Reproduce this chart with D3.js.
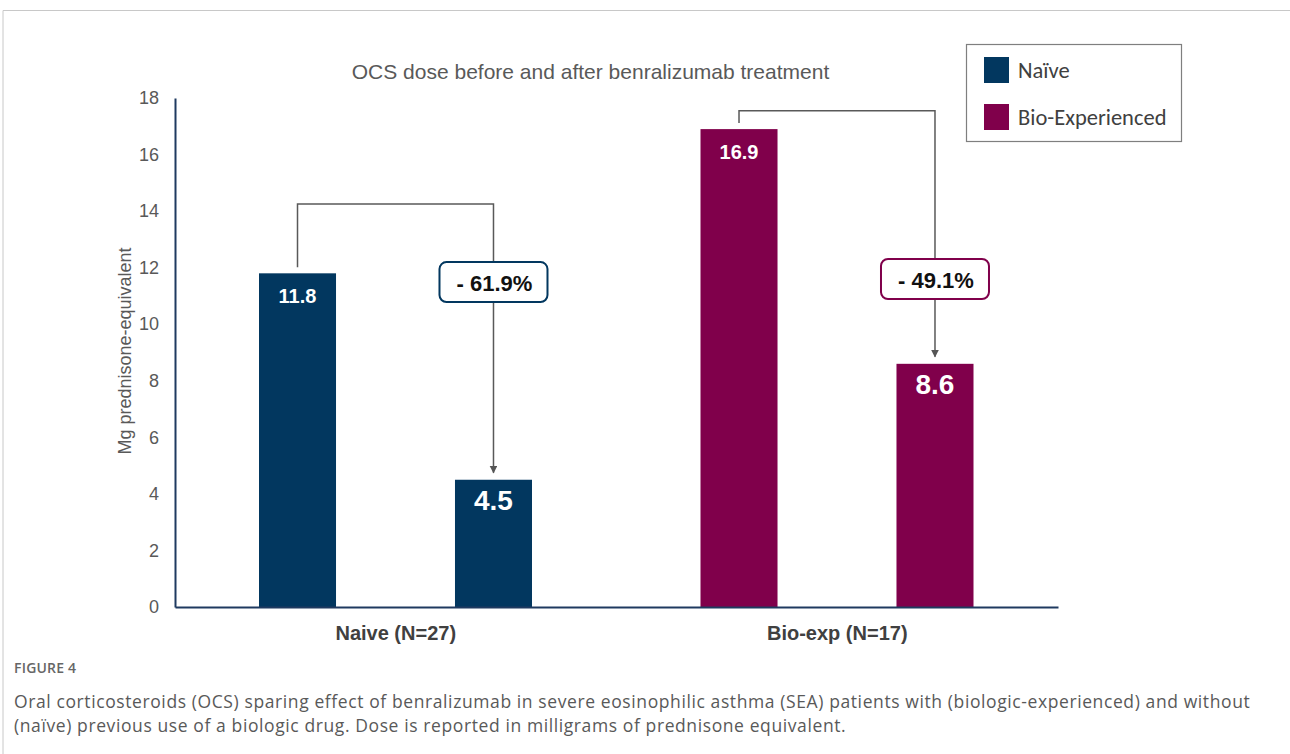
<meta charset="utf-8">
<style>
body { margin: 0; background: #fff; }
svg text { font-family: "Liberation Sans", Arial, sans-serif; }
.caption text { font-family: "Open Sans", "Noto Sans", sans-serif; fill: #595959; }
</style>
<body>
<script src="https://d3js.org/d3.v7.js"></script>
<script>
// data
var groups = ["Naive (N=27)", "Bio-exp (N=17)"];
var phases = ["before", "after"];
var doses = [[11.8, 4.5], [16.9, 8.6]];
var changes = ["- 61.9%", "- 49.1%"];
var bracketTop = [14.25, 17.55];   // y level of the connector line
var boxLevel = [11.49, 11.6];      // y level of the centre of the % box
var legendNames = ["Naïve", "Bio-Experienced"];
var yTicks = [0, 2, 4, 6, 8, 10, 12, 14, 16, 18];
var colors = ["#02375f", "#80004b"];

var W = 1290, H = 754;
var margin = {top: 98, left: 175, right: 232, bottom: 147};
var width = W - margin.left - margin.right,
    height = H - margin.top - margin.bottom;

var svg = d3.select("body").append("svg")
    .attr("width", W)
    .attr("height", H);

// frame
svg.append("path")
    .attr("d", "M3," + H + "V10.5H" + W)
    .attr("fill", "none")
    .attr("stroke", "#c8c8c8")
    .attr("stroke-width", 1);

var g = svg.append("g")
    .attr("transform", "translate(" + margin.left + "," + margin.top + ")");

var x0 = d3.scaleBand().domain(groups).range([0, width]);
var x1 = d3.scaleBand().domain(phases).range([84, 357]).paddingInner(0.607);
var y = d3.scaleLinear().domain([0, 18]).range([height, 0]);

svg.append("defs").append("marker")
    .attr("id", "arr")
    .attr("viewBox", "0 0 10 10")
    .attr("refX", 9).attr("refY", 5)
    .attr("markerWidth", 8).attr("markerHeight", 8)
    .attr("markerUnits", "userSpaceOnUse")
    .attr("orient", "auto")
  .append("path")
    .attr("d", "M0,0L10,5L0,10Z")
    .attr("fill", "#555");

// title
g.append("text")
    .attr("x", width / 2 - 26)
    .attr("y", -19)
    .attr("text-anchor", "middle")
    .style("font-size", "21px")
    .style("fill", "#595959")
    .text("OCS dose before and after benralizumab treatment");

// bars
groups.forEach(function(grp, i) {
  var gg = g.append("g").attr("transform", "translate(" + x0(grp) + ",0)");
  gg.selectAll("rect")
      .data(doses[i])
      .join("rect")
      .attr("x", function(d, j) { return x1(phases[j]); })
      .attr("y", function(d) { return y(d); })
      .attr("width", x1.bandwidth())
      .attr("height", function(d) { return height - y(d); })
      .attr("fill", colors[i]);

  gg.selectAll("text.val")
      .data(doses[i])
      .join("text")
      .attr("class", "val")
      .attr("x", function(d, j) { return x1(phases[j]) + x1.bandwidth() / 2; })
      .attr("y", function(d, j) { return y(d) + 30; })
      .attr("text-anchor", "middle")
      .style("font-weight", "bold")
      .style("font-size", function(d, j) { return j == 0 ? "20px" : "28px"; })
      .style("fill", "#fff")
      .text(function(d) { return d.toFixed(1); });

  // bracket with arrow
  var xa = x1("before") + x1.bandwidth() / 2,
      xb = x1("after") + x1.bandwidth() / 2;
  gg.append("path")
      .attr("d", "M" + xa + "," + (y(doses[i][0]) - 6) + "V" + y(bracketTop[i]) + "H" + xb + "V" + (y(doses[i][1]) - 7))
      .attr("fill", "none")
      .attr("stroke", "#595959")
      .attr("stroke-width", 1.5)
      .attr("marker-end", "url(#arr)");

  var by = y(boxLevel[i]) - 20;
  gg.append("rect")
      .attr("x", xb - 54).attr("y", by)
      .attr("width", 108).attr("height", 40)
      .attr("rx", 7)
      .attr("fill", "#fff")
      .attr("stroke", colors[i])
      .attr("stroke-width", 2);
  gg.append("text")
      .attr("x", xb + 1).attr("y", by + 29)
      .attr("text-anchor", "middle")
      .style("font-weight", "bold")
      .style("font-size", "22px")
      .style("fill", "#111")
      .text(changes[i]);
});

// axes
var yAxis = g.append("g")
    .call(d3.axisLeft(y).tickValues(yTicks).tickSize(0).tickPadding(16));
yAxis.select(".domain").attr("stroke", "#1f3a60").attr("stroke-width", 2);
yAxis.selectAll("text").style("font-size", "18px").style("fill", "#595959")
    .style("font-family", "Liberation Sans, Arial, sans-serif");

var xAxis = g.append("g")
    .attr("transform", "translate(0," + height + ")")
    .call(d3.axisBottom(x0).tickSize(0).tickPadding(19));
xAxis.select(".domain").attr("stroke", "#1f3a60").attr("stroke-width", 2);
xAxis.selectAll("text").style("font-size", "20px").style("font-weight", "bold")
    .style("fill", "#404040")
    .style("font-family", "Liberation Sans, Arial, sans-serif");

g.append("text")
    .attr("transform", "rotate(-90)")
    .attr("x", -253)
    .attr("y", -44)
    .attr("text-anchor", "middle")
    .style("font-size", "18px")
    .style("fill", "#595959")
    .text("Mg prednisone-equivalent");

// legend
var lg = svg.append("g").attr("transform", "translate(966,44)");
lg.append("rect")
    .attr("x", 0.5).attr("y", 0.5)
    .attr("width", 215).attr("height", 97)
    .attr("fill", "#fff")
    .attr("stroke", "#7f7f7f")
    .attr("stroke-width", 1.2);
legendNames.forEach(function(n, i) {
  lg.append("rect")
      .attr("x", 18).attr("y", 13 + i * 47)
      .attr("width", 25).attr("height", 26)
      .attr("fill", colors[i]);
  lg.append("text")
      .attr("x", 52).attr("y", 34 + i * 47)
      .style("font-family", "Carlito, 'Open Sans', sans-serif")
      .style("font-size", "22.5px")
      .style("fill", "#404040")
      .text(n);
});

// caption
var cap = svg.append("g").attr("class", "caption");
cap.append("text")
    .attr("x", 14).attr("y", 673)
    .style("font-size", "14px")
    .style("font-weight", "600")
    .style("letter-spacing", "0.2px")
    .style("fill", "#666")
    .text("FIGURE 4");
cap.append("text")
    .attr("x", 14).attr("y", 708)
    .style("font-size", "17.5px")
    .style("letter-spacing", "0.6px")
    .text("Oral corticosteroids (OCS) sparing effect of benralizumab in severe eosinophilic asthma (SEA) patients with (biologic-experienced) and without");
cap.append("text")
    .attr("x", 14).attr("y", 732)
    .style("font-size", "17.5px")
    .style("letter-spacing", "0.6px")
    .text("(naïve) previous use of a biologic drug. Dose is reported in milligrams of prednisone equivalent.");
</script>
</body>
